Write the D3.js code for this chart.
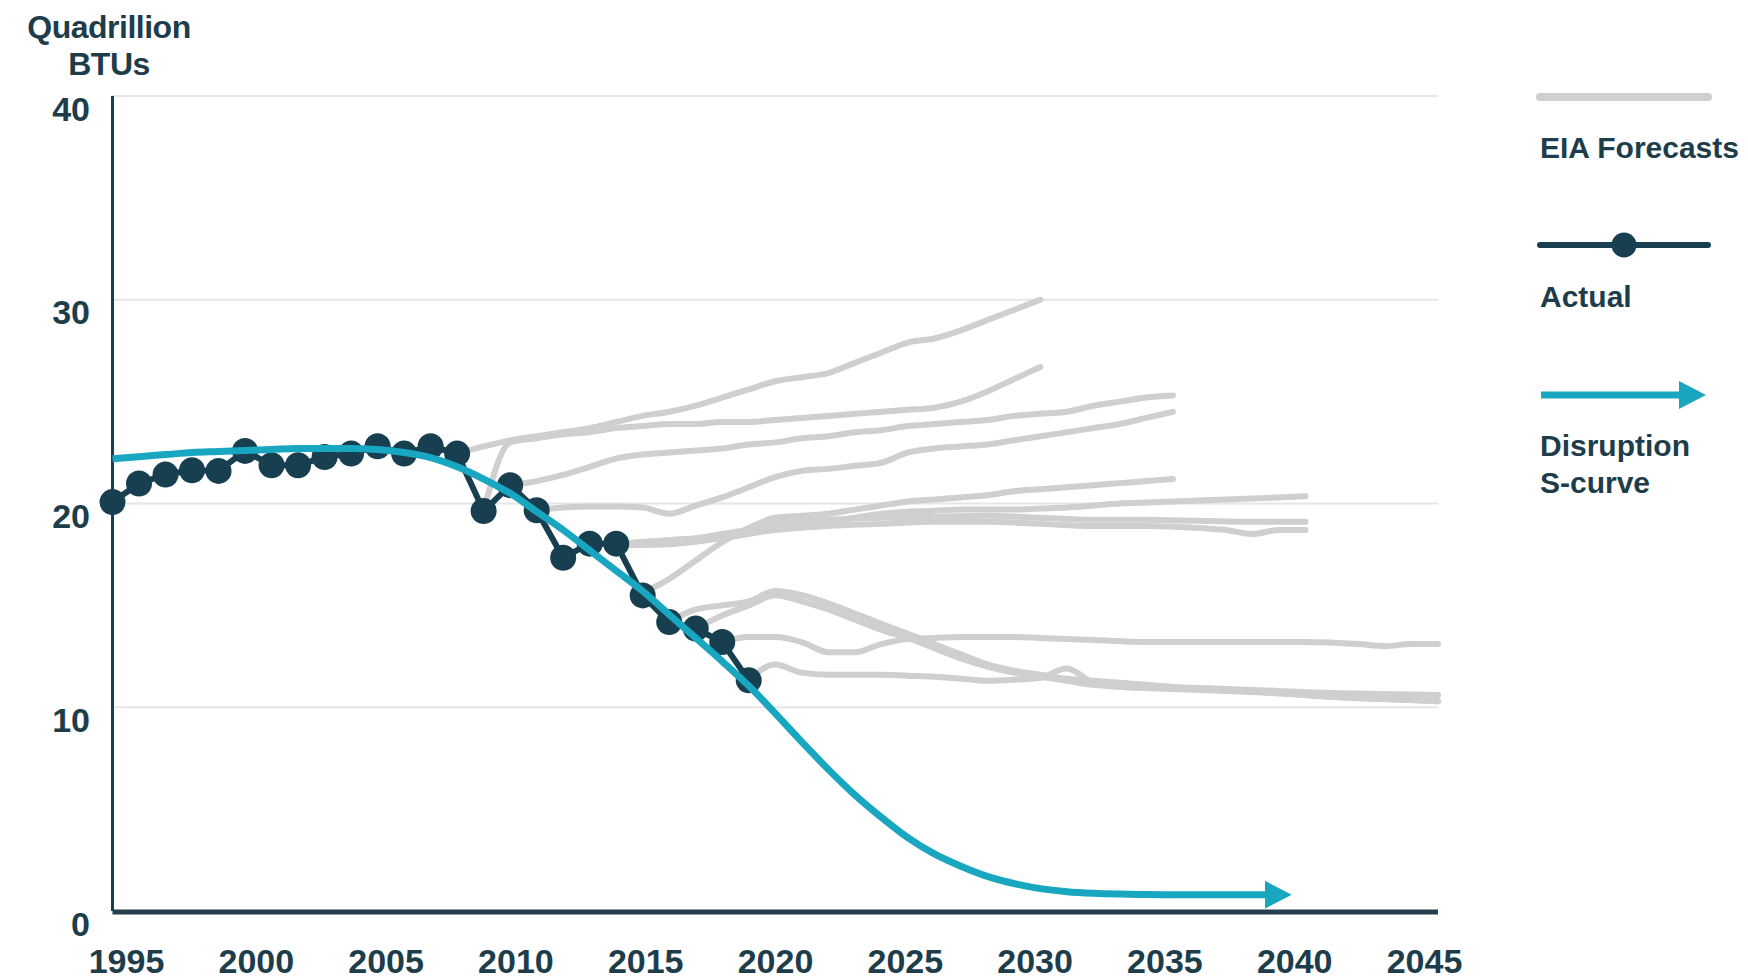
<!DOCTYPE html>
<html><head><meta charset="utf-8">
<script src="https://cdn.jsdelivr.net/npm/d3@7"></script>
<style>
html,body{margin:0;padding:0;background:#fff;}
svg{display:block;font-family:"Liberation Sans",Arial,Helvetica,sans-serif;font-weight:bold;}
</style></head>
<body><svg id="c" width="1748" height="979"></svg>
<script>
// ---- data ----
const yTicks = [0, 10, 20, 30, 40];
const xTicks = [1995, 2000, 2005, 2010, 2015, 2020, 2025, 2030, 2035, 2040, 2045];
const yTitle = ["Quadrillion", "BTUs"];
const legendLabels = ["EIA Forecasts", "Actual", ["Disruption", "S-curve"]];

const actualYears = [1995,1996,1997,1998,1999,2000,2001,2002,2003,2004,2005,2006,2007,2008,2009,2010,2011,2012,2013,2014,2015,2016,2017,2018,2019];
const actualValues = [20.07,20.98,21.42,21.63,21.6,22.58,21.88,21.88,22.28,22.45,22.81,22.45,22.81,22.45,19.63,20.9,19.67,17.34,18.03,18.03,15.49,14.18,13.86,13.2,11.32];

const sYears = [1995,1996,1997,1998,1999,2000,2001,2002,2003,2004,2005,2006,2007,2008,2009,2010,2011,2012,2013,2014,2015,2016,2017,2018,2019,2020,2021,2022,2023,2024,2025,2026,2027,2028,2029,2030,2031,2032,2033,2034,2035,2036,2037,2038,2038.5];
const sValues = [22.2,22.3,22.4,22.5,22.55,22.6,22.65,22.7,22.7,22.7,22.65,22.5,22.25,21.8,21.2,20.5,19.6,18.7,17.7,16.7,15.7,14.55,13.4,12.25,11.05,9.7,8.3,6.95,5.7,4.6,3.6,2.8,2.2,1.7,1.35,1.1,0.95,0.87,0.83,0.81,0.8,0.8,0.8,0.8,0.8];

const fc2008 = [[2008,22.45],[2009,22.8],[2010,23.1],[2011,23.3],[2012,23.5],[2013,23.7],[2014,24.0],[2015,24.3],[2016,24.5],[2017,24.8],[2018,25.2],[2019,25.6],[2020,26.0],[2021,26.2],[2022,26.4],[2023,26.9],[2024,27.4],[2025,27.9],[2026,28.1],[2027,28.5],[2028,29.0],[2029,29.5],[2030,30.0]];
const fc2009 = [[2009,19.63],[2010,23.0],[2011,23.2],[2012,23.4],[2013,23.5],[2014,23.7],[2015,23.8],[2016,23.9],[2017,23.9],[2018,24.0],[2019,24.0],[2020,24.1],[2021,24.2],[2022,24.3],[2023,24.4],[2024,24.5],[2025,24.6],[2026,24.7],[2027,25.0],[2028,25.5],[2029,26.1],[2030,26.7]];
const fc2010 = [[2010,20.9],[2011,21.1],[2012,21.4],[2013,21.8],[2014,22.2],[2015,22.4],[2016,22.5],[2017,22.6],[2018,22.7],[2019,22.9],[2020,23.0],[2021,23.2],[2022,23.3],[2023,23.5],[2024,23.6],[2025,23.8],[2026,23.9],[2027,24.0],[2028,24.1],[2029,24.3],[2030,24.4],[2031,24.5],[2032,24.8],[2033,25.0],[2034,25.2],[2035,25.3]];
const fc2011 = [[2011,19.67],[2012,19.8],[2013,19.85],[2014,19.85],[2015,19.8],[2016,19.5],[2017,19.9],[2018,20.3],[2019,20.8],[2020,21.3],[2021,21.6],[2022,21.7],[2023,21.85],[2024,22.0],[2025,22.5],[2026,22.7],[2027,22.8],[2028,22.9],[2029,23.1],[2030,23.3],[2031,23.5],[2032,23.7],[2033,23.9],[2034,24.2],[2035,24.5]];
const fc2014a = [[2014,18.03],[2015,18.1],[2016,18.2],[2017,18.3],[2018,18.5],[2019,18.7],[2020,18.9],[2021,19.0],[2022,19.1],[2023,19.3],[2024,19.5],[2025,19.6],[2026,19.65],[2027,19.7],[2028,19.7],[2029,19.7],[2030,19.75],[2031,19.8],[2032,19.9],[2033,20.0],[2034,20.05],[2035,20.1],[2036,20.15],[2037,20.2],[2038,20.25],[2039,20.3],[2040,20.35]];
const fc2014b = [[2014,18.03],[2016,18.2],[2018,18.4],[2019,18.7],[2020,19.1],[2022,19.2],[2024,19.3],[2026,19.35],[2028,19.4],[2030,19.3],[2032,19.2],[2034,19.2],[2036,19.15],[2038,19.1],[2040,19.1]];
const fc2014c = [[2014,17.95],[2016,18.0],[2018,18.3],[2020,18.7],[2022,18.9],[2024,19.0],[2026,19.1],[2028,19.1],[2030,19.0],[2032,18.9],[2034,18.9],[2036,18.8],[2037,18.7],[2038,18.5],[2039,18.7],[2040,18.7]];
const fc2015 = [[2015,15.6],[2016,16.3],[2017,17.2],[2018,18.1],[2019,18.8],[2020,19.3],[2021,19.4],[2022,19.5],[2023,19.7],[2024,19.9],[2025,20.1],[2026,20.2],[2027,20.3],[2028,20.4],[2029,20.6],[2030,20.7],[2031,20.8],[2032,20.9],[2033,21.0],[2034,21.1],[2035,21.2]];
const fc2016 = [[2016,14.2],[2017,14.8],[2018,15.0],[2019,15.2],[2020,15.7],[2021,15.5],[2022,15.1],[2023,14.6],[2024,14.1],[2025,13.6],[2026,13.1],[2027,12.6],[2028,12.1],[2029,11.8],[2030,11.6],[2031,11.4],[2032,11.3],[2033,11.2],[2034,11.1],[2035,11.0],[2037,10.9],[2039,10.8],[2041,10.7],[2043,10.65],[2045,10.6]];
const fc2017 = [[2017,13.86],[2018,14.5],[2019,15.0],[2020,15.5],[2021,15.2],[2022,14.8],[2023,14.3],[2024,13.8],[2025,13.4],[2026,12.9],[2027,12.4],[2028,12.0],[2029,11.7],[2030,11.5],[2031,11.3],[2032,11.1],[2033,11.0],[2035,10.9],[2037,10.8],[2039,10.7],[2041,10.5],[2043,10.4],[2045,10.3]];
const fc2018 = [[2018,13.2],[2019,13.45],[2020,13.45],[2021,13.2],[2022,12.7],[2023,12.7],[2024,13.1],[2025,13.35],[2026,13.4],[2027,13.45],[2028,13.45],[2029,13.45],[2030,13.4],[2032,13.3],[2034,13.2],[2036,13.2],[2038,13.2],[2040,13.2],[2042,13.1],[2043,13.0],[2044,13.1],[2045,13.1]];
const fc2019 = [[2019,11.32],[2020,12.1],[2021,11.7],[2022,11.6],[2023,11.6],[2024,11.6],[2025,11.55],[2026,11.5],[2027,11.4],[2028,11.3],[2029,11.35],[2030,11.45],[2031,11.9],[2032,11.2],[2033,11.0],[2034,10.95],[2036,10.9],[2038,10.75],[2040,10.6],[2042,10.45],[2044,10.35],[2045,10.3]];
const forecasts = [fc2008, fc2009, fc2010, fc2011, fc2014a, fc2014b, fc2014c, fc2015, fc2016, fc2017, fc2018, fc2019];

// ---- styles ----
const TEXT = "#1e3d4b", DARK = "#173f50", TEAL = "#19a6c0", GRAY = "#cfcfcf", GRID = "#e6e6e6";

const svg = d3.select("#c");
const x = d3.scaleLinear().domain([1995, 2045]).range([112.5, 1438]);
const xLab = d3.scaleLinear().domain([1995, 2045]).range([126, 1424]);
const y = d3.scaleLinear().domain([0, 40]).range([911, 96]);

// gridlines
svg.append("g").selectAll("line").data(yTicks.filter(d => d > 0)).join("line")
  .attr("x1", x(1995)).attr("x2", x(2045))
  .attr("y1", d => y(d)).attr("y2", d => y(d))
  .attr("stroke", GRID).attr("stroke-width", 2);

// y tick labels
const yAxis = svg.append("g").attr("transform", `translate(90,0)`)
  .call(d3.axisLeft(y).tickValues(yTicks).tickSize(0).tickPadding(0));
yAxis.select(".domain").remove();
yAxis.selectAll("text").attr("font-size", 34).attr("font-weight", "bold")
  .attr("fill", TEXT).attr("font-family", "Liberation Sans, Arial, sans-serif")
  .attr("dy", null).attr("y", 24);

// x tick labels
const xAxis = svg.append("g").attr("transform", `translate(0,973)`)
  .call(d3.axisBottom(xLab).tickValues(xTicks).tickFormat(d3.format("d")).tickSize(0).tickPadding(0));
xAxis.select(".domain").remove();
xAxis.selectAll("text").attr("font-size", 34).attr("font-weight", "bold")
  .attr("fill", TEXT).attr("font-family", "Liberation Sans, Arial, sans-serif")
  .attr("dy", 0).attr("y", 0);

// axis title
svg.append("g").selectAll("text").data(yTitle).join("text")
  .attr("x", 109).attr("y", (d, i) => 38 + i * 37)
  .attr("text-anchor", "middle").attr("font-size", 32).attr("fill", TEXT)
  .attr("letter-spacing", -0.5).text(d => d);

// forecasts
const line = d3.line().x(d => x(d[0])).y(d => y(d[1])).curve(d3.curveMonotoneX);
svg.append("g").selectAll("path").data(forecasts).join("path")
  .attr("d", line).attr("fill", "none").attr("stroke", GRAY)
  .attr("stroke-width", 6).attr("stroke-linejoin", "round").attr("stroke-linecap", "round");

// axes lines
svg.append("line").attr("x1", x(1995)).attr("x2", x(1995)).attr("y1", y(40)).attr("y2", y(0))
  .attr("stroke", DARK).attr("stroke-width", 3);
svg.append("line").attr("x1", x(1995)).attr("x2", x(2045)).attr("y1", y(0) + 1).attr("y2", y(0) + 1)
  .attr("stroke", "#253f4c").attr("stroke-width", 5);

// actual
const actual = actualYears.map((yr, i) => [yr, actualValues[i]]);
svg.append("path").datum(actual)
  .attr("d", d3.line().x(d => x(d[0])).y(d => y(d[1])))
  .attr("fill", "none").attr("stroke", DARK).attr("stroke-width", 6).attr("stroke-linejoin", "round");
svg.append("g").selectAll("circle").data(actual).join("circle")
  .attr("cx", d => x(d[0])).attr("cy", d => y(d[1])).attr("r", 13).attr("fill", DARK);

// S-curve with arrow
const defs = svg.append("defs");
defs.append("marker").attr("id", "arr").attr("markerUnits", "userSpaceOnUse")
  .attr("markerWidth", 30).attr("markerHeight", 30).attr("viewBox", "0 -15 30 30")
  .attr("refX", 1).attr("refY", 0).attr("orient", "auto")
  .append("path").attr("d", "M0,-14L27,0L0,14Z").attr("fill", TEAL);
const scurve = sYears.map((yr, i) => [yr, sValues[i]]);
svg.append("path").datum(scurve)
  .attr("d", d3.line().x(d => x(d[0])).y(d => y(d[1])).curve(d3.curveMonotoneX))
  .attr("fill", "none").attr("stroke", TEAL).attr("stroke-width", 7)
  .attr("marker-end", "url(#arr)");

// legend
const lg = svg.append("g");
lg.append("line").attr("x1", 1540).attr("x2", 1708).attr("y1", 97).attr("y2", 97)
  .attr("stroke", GRAY).attr("stroke-width", 8).attr("stroke-linecap", "round");
lg.append("line").attr("x1", 1540).attr("x2", 1708).attr("y1", 245).attr("y2", 245)
  .attr("stroke", DARK).attr("stroke-width", 6).attr("stroke-linecap", "round");
lg.append("circle").attr("cx", 1624).attr("cy", 245).attr("r", 12.5).attr("fill", DARK);
lg.append("line").attr("x1", 1541).attr("x2", 1680).attr("y1", 395).attr("y2", 395)
  .attr("stroke", TEAL).attr("stroke-width", 7).attr("marker-end", "url(#arr)");
const legendText = [[legendLabels[0], 158], [legendLabels[1], 307], [legendLabels[2][0], 456], [legendLabels[2][1], 493]];
lg.selectAll("text").data(legendText).join("text")
  .attr("x", 1540).attr("y", d => d[1]).attr("font-size", 30).attr("fill", TEXT)
  .text(d => d[0]);
</script></body></html>
